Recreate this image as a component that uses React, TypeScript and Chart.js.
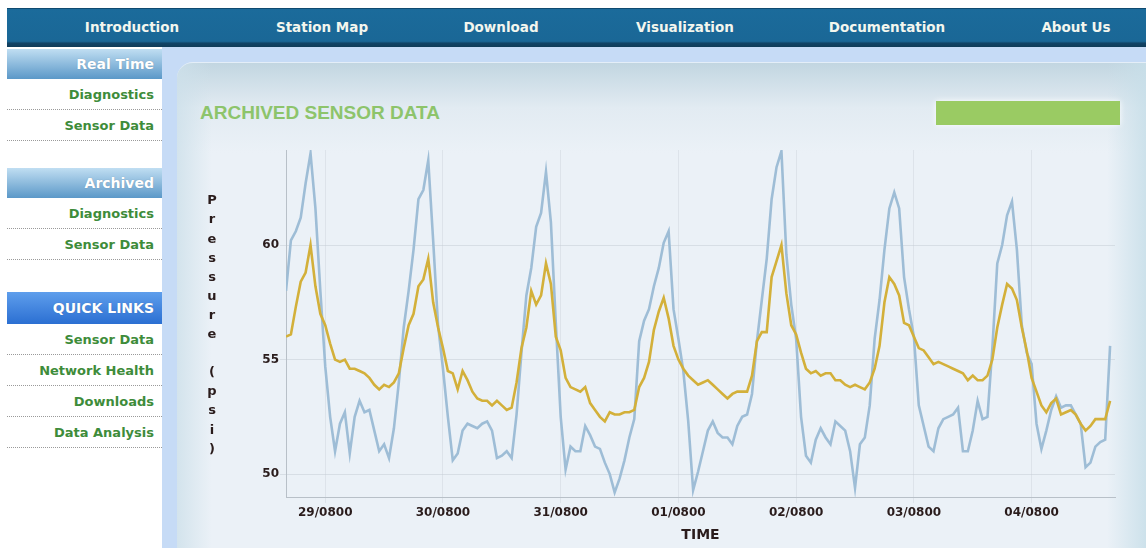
import React, { useEffect, useRef } from 'react';
import { Chart, registerables } from 'chart.js';

Chart.register(...registerables);

// Hourly readings starting 29th 00:00 (index = hours since start)
const BLUE_PSI = [
  58.0, 60.2, 60.6, 61.2, 62.7, 64.0, 61.6, 58.0, 54.7, 52.5,
  51.0, 52.2, 52.7, 50.9, 52.5, 53.2, 52.7, 52.8, 51.9, 51.0,
  51.3, 50.7, 52.0, 54.0, 56.4, 58.0, 59.8, 62.0, 62.4, 63.7,
  60.2, 56.5, 54.6, 52.5, 50.6, 50.9, 51.9, 52.2, 52.1, 52.0,
  52.2, 52.3, 51.9, 50.7, 50.8, 51.0, 50.7, 52.6, 55.3, 57.8,
  59.0, 60.8, 61.4, 63.2, 61.0, 56.6, 52.5, 50.2, 51.2, 51.0,
  51.0, 52.1, 51.7, 51.2, 51.1, 50.5, 50.0, 49.2, 49.8, 50.6,
  51.6, 52.4, 55.8, 56.7, 57.2, 58.2, 59.0, 60.1, 60.6, 57.2,
  55.9, 54.5, 52.3, 49.3, 50.1, 51.0, 51.9, 52.3, 51.8, 51.6,
  51.6, 51.3, 52.1, 52.5, 52.6, 53.5, 55.8, 57.6, 59.4, 62.0,
  63.4, 64.1, 59.6, 57.4, 55.9, 52.5, 50.8, 50.5, 51.5, 52.0,
  51.6, 51.3, 52.3, 52.1, 51.9, 51.0, 49.4, 51.3, 51.6, 53.0,
  55.9, 57.6, 59.8, 61.6, 62.3, 61.6, 58.6, 57.2, 56.0, 53.0,
  52.1, 51.2, 51.0, 52.0, 52.4, 52.5, 52.6, 52.9, 51.0, 51.0,
  51.9, 53.2, 52.4, 52.5, 55.5, 59.2, 60.0, 61.3, 61.9, 59.8,
  56.5, 55.3, 54.8, 52.2, 51.1, 51.9, 52.8, 53.4, 52.9, 53.0,
  53.0, 52.6, 52.2, 50.3, 50.5, 51.2, 51.4, 51.5, 55.6,
];

const GOLD_PSI = [
  56.0, 56.1, 57.3, 58.4, 58.8, 60.0, 58.2, 57.0, 56.5, 55.7,
  55.0, 54.9, 55.0, 54.6, 54.6, 54.5, 54.4, 54.2, 53.9, 53.7,
  53.9, 53.8, 54.0, 54.4, 55.5, 56.5, 57.0, 58.2, 58.5, 59.4,
  57.5, 56.4, 55.5, 54.5, 54.4, 53.7, 54.5, 54.1, 53.6, 53.3,
  53.2, 53.2, 53.0, 53.2, 53.0, 52.8, 52.9, 54.0, 55.5, 56.4,
  58.0, 57.4, 57.8, 59.2, 58.3, 56.0, 55.4, 54.2, 53.8, 53.7,
  53.6, 53.8, 53.1, 52.8, 52.5, 52.3, 52.7, 52.6, 52.6, 52.7,
  52.7, 52.8, 53.8, 54.2, 54.9, 56.3, 57.1, 57.7, 56.8, 55.6,
  55.0, 54.6, 54.3, 54.1, 53.9, 54.0, 54.1, 53.9, 53.7, 53.5,
  53.3, 53.5, 53.6, 53.6, 53.6, 54.3, 55.8, 56.2, 56.2, 58.6,
  59.3, 60.0, 57.9, 56.5, 56.1, 55.3, 54.6, 54.4, 54.5, 54.3,
  54.4, 54.4, 54.1, 54.1, 53.9, 53.8, 53.9, 53.8, 53.7, 54.0,
  54.6, 55.6, 57.5, 58.6, 58.3, 57.8, 56.6, 56.5, 56.0, 55.5,
  55.4, 55.1, 54.8, 54.9, 54.8, 54.7, 54.6, 54.5, 54.4, 54.1,
  54.3, 54.1, 54.1, 54.3, 55.0, 56.4, 57.4, 58.3, 58.1, 57.6,
  56.4, 55.4, 54.2, 53.6, 53.0, 52.7, 53.1, 53.3, 52.6, 52.7,
  52.8, 52.6, 52.2, 51.9, 52.1, 52.4, 52.4, 52.4, 53.2,
];

const X_TICK_HOURS = [8, 32, 56, 80, 104, 128, 152];
const X_TICK_LABELS = ['29/0800', '30/0800', '31/0800', '01/0800', '02/0800', '03/0800', '04/0800'];
const Y_TICKS = [50, 55, 60];
const Y_TITLE = 'Pressure (psi)';
const X_TITLE = 'TIME';
const PAGE_TITLE = 'ARCHIVED SENSOR DATA';

const NAV_ITEMS = ['Introduction', 'Station Map', 'Download', 'Visualization', 'Documentation', 'About Us'];
const NAV_CENTERS = [132, 322, 501, 685, 887, 1076];

const SIDEBAR_GROUPS = [
  { title: 'Real Time', kind: 'light', items: ['Diagnostics', 'Sensor Data'] },
  { title: 'Archived', kind: 'light', items: ['Diagnostics', 'Sensor Data'] },
  { title: 'QUICK LINKS', kind: 'strong', items: ['Sensor Data', 'Network Health', 'Downloads', 'Data Analysis'] },
];

const FONT = '"DejaVu Sans", Verdana, sans-serif';
const TEXT_DARK = '#2a1c1c';
const BLUE_LINE = 'rgb(158,189,214)';
const GOLD_LINE = 'rgb(211,176,58)';
const GRID_H = 'rgba(196,204,212,0.5)';
const GRID_V = 'rgba(200,208,216,0.4)';
const AXIS = '#b8c0c8';

const stackedYTitle = {
  id: 'stackedYTitle',
  afterDraw(chart: any) {
    const { ctx, chartArea } = chart;
    ctx.save();
    ctx.font = `bold 13px ${FONT}`;
    ctx.fillStyle = TEXT_DARK;
    ctx.textAlign = 'center';
    ctx.textBaseline = 'middle';
    Y_TITLE.split('').forEach((ch, i) => {
      ctx.fillText(ch, chartArea.left - 74, chartArea.top + 51 + i * 19.1);
    });
    ctx.restore();
  },
};

export default function App() {
  const canvasRef = useRef<HTMLCanvasElement>(null);

  useEffect(() => {
    const canvas = canvasRef.current;
    if (!canvas) return;
    const chart = new Chart(canvas, {
      type: 'line',
      data: {
        datasets: [
          {
            label: 'Gold',
            data: GOLD_PSI.map((y, i) => ({ x: i, y })),
            borderColor: GOLD_LINE,
            borderWidth: 2.6,
            pointRadius: 0,
            tension: 0,
            fill: false,
          },
          {
            label: 'Blue',
            data: BLUE_PSI.map((y, i) => ({ x: i, y })),
            borderColor: BLUE_LINE,
            borderWidth: 2.6,
            pointRadius: 0,
            tension: 0,
            fill: false,
          },
        ],
      },
      options: {
        animation: false,
        responsive: false,
        devicePixelRatio: 1,
        layout: { padding: { top: 10, right: 25, left: 0, bottom: 0 } },
        plugins: { legend: { display: false }, tooltip: { enabled: false }, title: { display: false } },
        scales: {
          x: {
            type: 'linear',
            min: 0,
            max: 169,
            afterBuildTicks: (s: any) => {
              s.ticks = X_TICK_HOURS.map((v) => ({ value: v }));
            },
            afterFit: (s: any) => {
              s.height = 51;
            },
            ticks: {
              autoSkip: false,
              maxRotation: 0,
              padding: 3,
              color: TEXT_DARK,
              font: { family: FONT, size: 12, weight: 'bold' },
              callback: (_v: any, i: number) => X_TICK_LABELS[i],
            },
            grid: { color: GRID_V, tickLength: 6 },
            border: { color: AXIS },
            title: {
              display: true,
              text: X_TITLE,
              color: TEXT_DARK,
              font: { family: FONT, size: 14, weight: 'bold' },
              padding: { top: 2, bottom: 4 },
            },
          },
          y: {
            type: 'linear',
            min: 49,
            max: 64.15,
            afterBuildTicks: (s: any) => {
              s.ticks = Y_TICKS.map((v) => ({ value: v }));
            },
            afterFit: (s: any) => {
              s.width = 96;
            },
            ticks: {
              padding: 1,
              color: TEXT_DARK,
              font: { family: FONT, size: 12, weight: 'bold' },
            },
            grid: { color: GRID_H, tickLength: 6 },
            border: { color: AXIS },
          },
        },
      } as any,
      plugins: [stackedYTitle],
    });
    return () => chart.destroy();
  }, []);

  let sideTop = 2;
  const sideBlocks: any[] = [];
  SIDEBAR_GROUPS.forEach((g, gi) => {
    const hh = g.kind === 'strong' ? 32 : 30;
    sideBlocks.push(
      <div
        key={`h${gi}`}
        style={{
          position: 'absolute',
          left: 0,
          width: 155,
          top: sideTop,
          height: hh,
          lineHeight: `${hh}px`,
          textAlign: 'right',
          paddingRight: 8,
          boxSizing: 'border-box',
          color: '#ffffff',
          fontWeight: 'bold',
          fontSize: 14,
          textShadow: '0 0 1px rgba(0,0,0,0.25)',
          background:
            g.kind === 'strong'
              ? 'linear-gradient(#5e9eec, #2b6fd2)'
              : 'linear-gradient(#c0def2, #5b98c8)',
        }}
      >
        {g.title}
      </div>
    );
    sideTop += hh;
    g.items.forEach((it, ii) => {
      sideBlocks.push(
        <div
          key={`i${gi}_${ii}`}
          style={{
            position: 'absolute',
            left: 0,
            width: 155,
            top: sideTop,
            height: 31,
            lineHeight: '31px',
            textAlign: 'right',
            paddingRight: 8,
            boxSizing: 'border-box',
            color: '#3e8c3a',
            fontWeight: 'bold',
            fontSize: 13,
            borderBottom: '1px dotted #9a9a9a',
          }}
        >
          {it}
        </div>
      );
      sideTop += 31;
    });
    sideTop += gi === 0 ? 27 : 32;
  });

  return (
    <div
      style={{
        position: 'fixed',
        inset: 0,
        overflow: 'hidden',
        background: '#ffffff',
        fontFamily: FONT,
      }}
    >
      {/* light blue page background */}
      <div style={{ position: 'absolute', left: 7, top: 47, right: 0, bottom: 0, background: '#c6dbf6' }} />

      {/* nav bar */}
      <div
        style={{
          position: 'absolute',
          left: 7,
          top: 8,
          right: 0,
          height: 39,
          boxSizing: 'border-box',
          background: 'linear-gradient(#1b6b9b, #1a6796 85%, #114466 90%, #0f3b58)',
          borderTop: '1px solid #0f4a70',
        }}
      >
        {NAV_ITEMS.map((t, i) => (
          <div
            key={t}
            style={{
              position: 'absolute',
              left: NAV_CENTERS[i] - 7 - 80,
              width: 160,
              top: 0,
              height: 36,
              lineHeight: '36px',
              textAlign: 'center',
              color: '#f3f6ee',
              fontWeight: 'bold',
              fontSize: 13.5,
            }}
          >
            {t}
          </div>
        ))}
      </div>

      {/* sidebar */}
      <div style={{ position: 'absolute', left: 7, top: 47, width: 155, bottom: 0, background: '#ffffff' }}>
        {sideBlocks}
      </div>

      {/* main panel */}
      <div
        style={{
          position: 'absolute',
          left: 177,
          top: 62,
          right: -30,
          bottom: -30,
          borderRadius: 16,
          borderTop: '1px solid #e4eef8',
          background:
            'linear-gradient(to right, rgba(205,224,234,0.8) 0px, rgba(233,240,246,0) 35px, rgba(233,240,246,0) 930px, rgba(200,223,233,1) 975px), linear-gradient(#c2d6e1 0px, #e2ebf2 45px, #ebf1f7 90px, #ebf1f7 100%)',
        }}
      />

      {/* title */}
      <div
        style={{
          position: 'absolute',
          left: 200,
          top: 102,
          height: 22,
          lineHeight: '22px',
          fontFamily: '"Liberation Sans", Arial, sans-serif',
          fontWeight: 'bold',
          fontSize: 19,
          color: '#8dc46b',
          whiteSpace: 'nowrap',
        }}
      >
        {PAGE_TITLE}
      </div>

      {/* green bar */}
      <div
        style={{
          position: 'absolute',
          left: 936,
          top: 101,
          width: 184,
          height: 24,
          background: '#9acb63',
          boxShadow: '0 0 6px rgba(255,255,255,0.9)',
        }}
      />

      {/* chart */}
      <div style={{ position: 'absolute', left: 190, top: 140, width: 950, height: 408 }}>
        <canvas ref={canvasRef} width={950} height={408} style={{ display: 'block', width: 950, height: 408 }} />
      </div>
    </div>
  );
}
